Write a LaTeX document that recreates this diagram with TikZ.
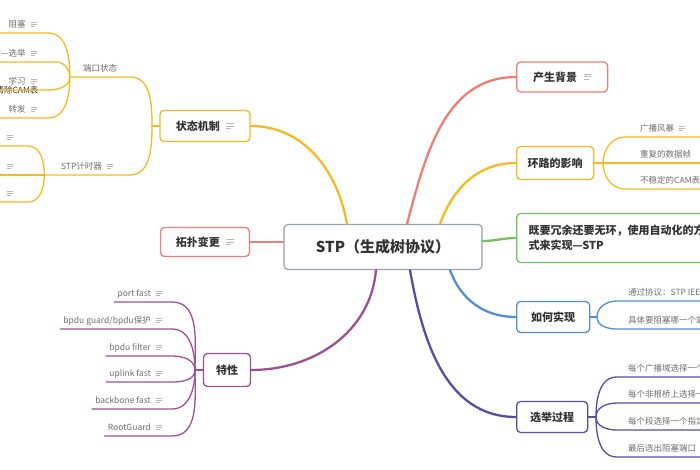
\documentclass[tikz,border=0pt]{standalone}
\usepackage{fontspec}
\setmainfont{Noto Sans CJK SC}
\usetikzlibrary{positioning,calc}
\definecolor{TopicGray}{RGB}{150,160,175}
\definecolor{BranchRed}{RGB}{240,125,115}
\definecolor{BranchYellow}{RGB}{247,185,35}
\definecolor{BranchGreen}{RGB}{115,195,90}
\definecolor{BranchBlue}{RGB}{85,140,215}
\definecolor{BranchIndigo}{RGB}{90,75,165}
\definecolor{BranchPlum}{RGB}{155,80,150}
\definecolor{TextDark}{RGB}{51,51,51}
\definecolor{TextGray}{RGB}{110,110,110}
\newcommand{\noteicon}{\hspace{.6em}{\color{gray!55}\raisebox{.1em}{\vbox{\hrule width .7em height .09em\vskip.15em
  \hrule width .7em height .09em\vskip.15em\hrule width .45em height .09em}}}}
\tikzset{
  rootbox/.style={draw=TopicGray,fill=white,rounded corners=4pt,line width=1.2pt,
                  minimum width=198pt,minimum height=45pt,
                  font=\fontsize{15}{18}\selectfont\bfseries,text=TextDark},
  topicbox/.style={draw=#1,fill=white,rounded corners=4pt,line width=1.3pt,
                   minimum height=31pt,inner xsep=6pt,
                   font=\fontsize{11}{15}\selectfont\bfseries,text=TextDark},
  leaf/.style={inner xsep=3pt,inner ysep=4pt,text height=6.5pt,text depth=1.5pt,
               font=\fontsize{8.5}{10}\selectfont,text=TextGray},
  branch/.style={draw=#1,line width=2.3pt,line cap=round},
  twig/.style={draw=#1,line width=1.3pt,line cap=round},
}
\begin{document}
\begin{tikzpicture}[x=1pt,y=1pt]
\useasboundingbox (0,0) rectangle (700,-470);
\clip (0,0) rectangle (700,-470);
\coordinate (edgeL) at (0,0);
\coordinate (edgeR) at (700,0);

\node[rootbox] (root) at (383,-247) {STP（生成树协议）};

\node[topicbox=BranchRed,anchor=west,minimum width=91pt,minimum height=30pt] (bg) at (516,-77) {产生背景\noteicon};
\node[topicbox=BranchYellow,anchor=west,minimum width=77pt,minimum height=33pt] (loop) at (516,-163) {环路的影响};
\node[topicbox=BranchGreen,anchor=west,minimum height=49pt,inner xsep=12pt,align=left] (goal) at (516,-238) {既要冗余还要无环，使用自动化的方\\式来实现—STP};
\node[topicbox=BranchBlue,anchor=west,minimum width=73pt] (how) at (516,-317) {如何实现};
\node[topicbox=BranchIndigo,anchor=west,minimum width=71pt] (elect) at (516,-417) {选举过程};
\node[topicbox=BranchYellow,minimum width=90pt] (state) at (205,-126) {状态机制\noteicon};
\node[topicbox=BranchRed,minimum width=89pt,minimum height=29pt] (topo) at (205,-242) {拓扑变更\noteicon};
\node[topicbox=BranchPlum,minimum width=47pt,minimum height=33pt] (feat) at (227,-370) {特性};

\draw[branch=BranchRed] ([xshift=24pt]root.north) to[out=75,in=180] (bg.west);
\draw[branch=BranchYellow] ([xshift=57pt]root.north) to[out=70,in=180] (loop.west);
\draw[branch=BranchGreen] ([yshift=6pt]root.east) to[out=0,in=180] (goal.west);
\draw[branch=BranchBlue] ([xshift=67pt]root.south) to[out=-70,in=180] (how.west);
\draw[branch=BranchIndigo] ([xshift=27pt]root.south) to[out=-80,in=180] (elect.west);
\draw[branch=BranchYellow] ([xshift=-36pt]root.north) to[out=100,in=0] (state.east);
\draw[branch=BranchRed] (topo.east) -- (topo.east -| root.west);
\draw[branch=BranchPlum] ([xshift=-7pt]root.south) to[out=-95,in=0] (feat.east);

% 环路的影响
\coordinate (loopfork) at (603,-163);
\node[leaf,anchor=south west] (storm) at (637,-137) {广播风暴\noteicon};
\node[leaf,anchor=south west] (dup) at (637,-163) {重复的数据帧};
\node[leaf,anchor=south west] (cam) at (637,-189) {不稳定的CAM表};
\draw[twig=BranchYellow] (loop.east) -- (loopfork);
\draw[twig=BranchYellow] (loopfork) to[out=90,in=180] ([xshift=-12pt]storm.south west) -- (storm.south west -| edgeR);
\draw[twig=BranchYellow] (loopfork) -- (dup.south west -| edgeR);
\draw[twig=BranchYellow] (loopfork) to[out=-90,in=180] ([xshift=-12pt]cam.south west) -- (cam.south west -| edgeR);

% 如何实现
\coordinate (howfork) at (597,-317);
\node[leaf,anchor=south west] (proto) at (625,-301) {通过协议：STP IEEE 802.1D};
\node[leaf,anchor=south west] (which) at (625,-329) {具体要阻塞哪一个端口};
\draw[twig=BranchBlue] (how.east) -- (howfork);
\draw[twig=BranchBlue] (howfork) to[out=90,in=180] ([xshift=-8pt]proto.south west) -- (proto.south west -| edgeR);
\draw[twig=BranchBlue] (howfork) to[out=-90,in=180] ([xshift=-8pt]which.south west) -- (which.south west -| edgeR);

% 选举过程
\coordinate (electfork) at (596,-417);
\node[leaf,anchor=south west] (rootbr) at (625,-377) {每个广播域选择一个根桥};
\node[leaf,anchor=south west] (rootpt) at (625,-403) {每个非根桥上选择一个根端口};
\node[leaf,anchor=south west] (despt) at (625,-430) {每个段选择一个指定端口};
\node[leaf,anchor=south west] (blkpt) at (625,-457) {最后选出阻塞端口};
\draw[twig=BranchIndigo] (elect.east) -- (electfork);
\draw[twig=BranchIndigo] (electfork) to[out=90,in=180] ([xshift=-8pt]rootbr.south west) -- (rootbr.south west -| edgeR);
\draw[twig=BranchIndigo] (electfork) to[out=90,in=180] ([xshift=-8pt]rootpt.south west) -- (rootpt.south west -| edgeR);
\draw[twig=BranchIndigo] (electfork) to[out=-90,in=180] ([xshift=-8pt]despt.south west) -- (despt.south west -| edgeR);
\draw[twig=BranchIndigo] (electfork) to[out=-90,in=180] ([xshift=-8pt]blkpt.south west) -- (blkpt.south west -| edgeR);

% 状态机制
\coordinate (statefork) at (152,-126);
\node[leaf,anchor=south,minimum width=60pt] (portstate) at (100,-77) {端口状态};
\node[leaf,anchor=south,minimum width=85pt] (timer) at (87,-175) {STP计时器\noteicon};
\draw[twig=BranchYellow] (state.west) -- (statefork);
\draw[twig=BranchYellow] (statefork) to[out=90,in=0] (portstate.south east) -- (portstate.south west);
\draw[twig=BranchYellow] (statefork) to[out=-90,in=0] (timer.south east) -- (timer.south west);

\node[leaf,anchor=south east] (block) at (40,-33) {阻塞\noteicon};
\node[leaf,anchor=south east] (listen) at (40,-62) {监听—选举\noteicon};
\node[leaf,anchor=south east] (learn) at (40,-90) {学习\noteicon};
\node[leaf,anchor=south east] (fwd) at (40,-118) {转发\noteicon};
\node[leaf,text=TextDark] (flush) at (17,-91) {清除CAM表};
\draw[twig=BranchYellow] (portstate.south west) to[out=90,in=0] ([xshift=8pt]block.south east) -- (block.south west -| edgeL);
\draw[twig=BranchYellow] (portstate.south west) to[out=90,in=0] ([xshift=16pt]listen.south east) -- (listen.south west -| edgeL);
\draw[twig=BranchYellow] (portstate.south west) to[out=-90,in=0] ([xshift=8pt]learn.south east) -- (learn.south west -| edgeL);
\draw[twig=BranchYellow] (portstate.south west) to[out=-90,in=0] ([xshift=8pt]fwd.south east) -- (fwd.south west -| edgeL);

\node[leaf,anchor=south east] (hello) at (16,-146) {\noteicon};
\node[leaf,anchor=south east] (delay) at (16,-175) {\noteicon};
\node[leaf,anchor=south east] (maxage) at (16,-202) {\noteicon};
\draw[twig=BranchYellow] (timer.south west) to[out=90,in=0] ([xshift=12pt]hello.south east) -- (hello.south east -| edgeL);
\draw[twig=BranchYellow] (timer.south west) -- (delay.south east -| edgeL);
\draw[twig=BranchYellow] (timer.south west) to[out=-90,in=0] ([xshift=12pt]maxage.south east) -- (maxage.south east -| edgeL);

% 特性
\coordinate (featfork) at (195,-370);
\node[leaf,anchor=south east] (pfast) at (165,-302) {port fast\noteicon};
\node[leaf,anchor=south east] (bguard) at (165,-329) {bpdu guard/bpdu保护\noteicon};
\node[leaf,anchor=south east] (bfilter) at (165,-356) {bpdu filter\noteicon};
\node[leaf,anchor=south east] (ufast) at (165,-382) {uplink fast\noteicon};
\node[leaf,anchor=south east] (bbfast) at (165,-409) {backbone fast\noteicon};
\node[leaf,anchor=south east] (rguard) at (165,-436) {RootGuard\noteicon};
\draw[twig=BranchPlum] (feat.west) -- (featfork);
\foreach \n in {pfast,bguard,bfilter}
  \draw[twig=BranchPlum] (featfork) to[out=90,in=0] ([xshift=7pt]\n.south east) -- (\n.south west);
\foreach \n in {ufast,bbfast,rguard}
  \draw[twig=BranchPlum] (featfork) to[out=-90,in=0] ([xshift=7pt]\n.south east) -- (\n.south west);
\end{tikzpicture}
\end{document}
